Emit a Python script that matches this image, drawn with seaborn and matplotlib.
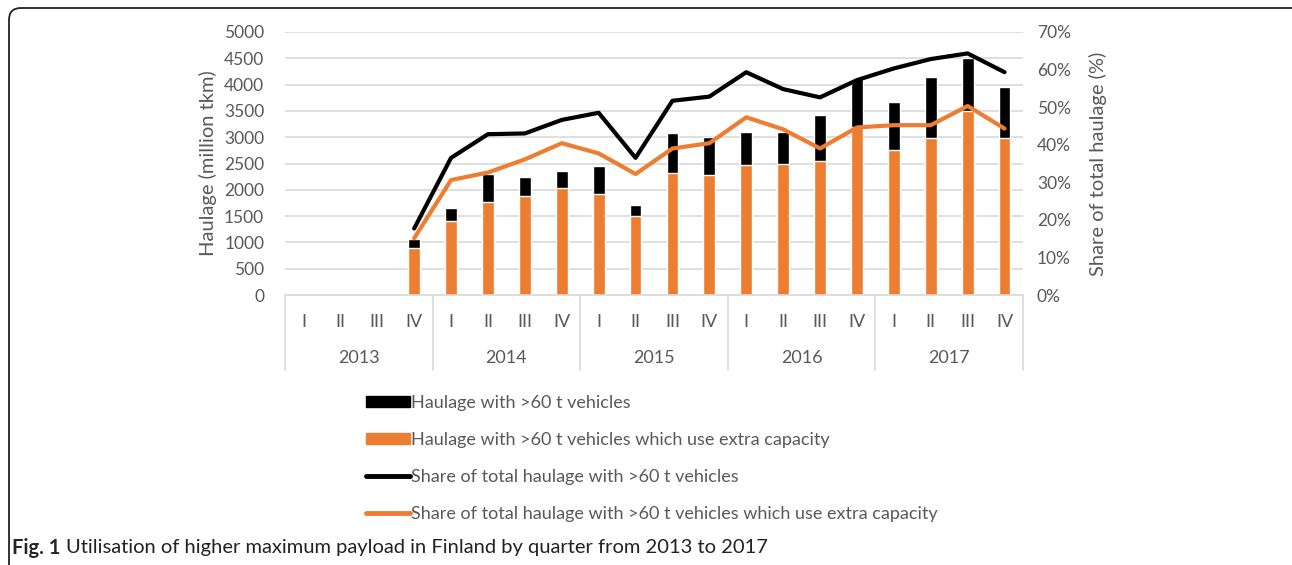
import seaborn as sns
import numpy as np
import pandas as pd
import matplotlib.pyplot as plt
from matplotlib.patches import Patch, FancyBboxPatch
from matplotlib.lines import Line2D

years = ["2013", "2014", "2015", "2016", "2017"]
quarters = ["I", "II", "III", "IV"]

# haulage, million tkm (2013 I-III not available)
haulage_60t = [np.nan, np.nan, np.nan, 1070,
               1650, 2300, 2250, 2350,
               2460, 1710, 3080, 3000,
               3090, 3100, 3430, 4100,
               3660, 4140, 4500, 3960]
haulage_extra = [np.nan, np.nan, np.nan, 900,
                 1400, 1760, 1880, 2040,
                 1920, 1500, 2320, 2290,
                 2470, 2490, 2550, 3200,
                 2760, 2990, 3500, 2980]
# share of total haulage, %
share_60t = [np.nan, np.nan, np.nan, 17.7,
             36.5, 42.8, 43.0, 46.6,
             48.5, 36.5, 51.7, 52.8,
             59.3, 54.8, 52.6, 57.2,
             60.3, 62.8, 64.3, 59.3]
share_extra = [np.nan, np.nan, np.nan, 15.1,
               30.6, 32.6, 36.1, 40.4,
               37.7, 32.2, 39.0, 40.4,
               47.3, 44.1, 39.0, 44.6,
               45.2, 45.2, 50.3, 44.3]

keys = [f"{y} {q}" for y in years for q in quarters]
df = pd.DataFrame({"key": keys, "pos": range(len(keys)),
                   "h60": haulage_60t, "hex": haulage_extra,
                   "s60": share_60t, "sex": share_extra})

sns.set_style("white")
plt.rcParams["font.family"] = ["Lato", "DejaVu Sans"]
grey = "#595959"
orange = "#ED7D31"

fig = plt.figure(figsize=(12.92, 5.65), dpi=100)
ax = fig.add_axes([285/1292, 1-295/565, 738/1292, 263/565])

sns.barplot(data=df, x="key", y="h60", order=keys, color="black", width=0.32,
            saturation=1, ax=ax)
sns.barplot(data=df, x="key", y="hex", order=keys, color=orange, width=0.32,
            saturation=1, ax=ax)
ax.set_ylim(0, 5000)
ax.set_yticks(range(0, 5001, 500))
ax.yaxis.grid(True, color="#d9d9d9", lw=1.2)
ax.set_axisbelow(True)
ax.tick_params(axis="y", labelsize=12.5, colors=grey, length=0, pad=15)
ax.set_xticks([])
ax.set_xlabel("")
ax.set_ylabel("Haulage (million tkm)", fontsize=14.5, color=grey, labelpad=5)
for s in ["top", "left", "right"]:
    ax.spines[s].set_visible(False)
ax.spines["bottom"].set_color("#d9d9d9")
ax.spines["bottom"].set_linewidth(1.2)

ax2 = ax.twinx()
sns.lineplot(data=df, x="pos", y="s60", color="black", lw=3, ax=ax2)
sns.lineplot(data=df, x="pos", y="sex", color=orange, lw=3, ax=ax2)
ax2.set_ylim(0, 70)
ax2.set_yticks(range(0, 71, 10))
ax2.set_yticklabels([f"{v}%" for v in range(0, 71, 10)])
ax2.tick_params(axis="y", labelsize=12.5, colors=grey, length=0, pad=10)
ax2.set_ylabel("Share of total haulage (%)", fontsize=14.5, color=grey, labelpad=13)
ax2.set_xlabel("")
for s in ax2.spines.values():
    s.set_visible(False)
ax.set_xlim(-0.5, len(keys) - 0.5)

# two-level category axis
trans = ax.get_xaxis_transform()
for i, y in enumerate(years):
    for j, q in enumerate(quarters):
        ax.text(i*4 + j, -0.103, q, transform=trans, ha="center", va="center",
                fontsize=13, color=grey)
    ax.text(i*4 + 1.5, -0.24, y, transform=trans, ha="center", va="center",
            fontsize=13, color=grey)
for b in range(len(years) + 1):
    ax.plot([b*4 - 0.5]*2, [0, -0.285], transform=trans, color="#d9d9d9",
            lw=1.2, clip_on=False)

handles = [Patch(color="black"), Patch(color=orange),
           Line2D([], [], color="black", lw=3.5), Line2D([], [], color=orange, lw=3.5)]
labels = ["Haulage with >60 t vehicles",
          "Haulage with >60 t vehicles which use extra capacity",
          "Share of total haulage with >60 t vehicles",
          "Share of total haulage with >60 t vehicles which use extra capacity"]
leg = fig.legend(handles, labels, loc="upper left", bbox_to_anchor=(350/1292, 1-379/565),
                 frameon=False, fontsize=13, handlelength=2.4, handleheight=0.55,
                 handletextpad=0.1, labelspacing=1.15)
for t in leg.get_texts():
    t.set_color(grey)

fig_lbl = fig.text(12/1292, 1-548/565, "Fig. 1", fontsize=14.5, fontweight="bold",
                   va="center", ha="left")
ax.annotate("Utilisation of higher maximum payload in Finland by quarter from 2013 to 2017",
            xy=(1, 0.5), xycoords=fig_lbl, xytext=(4, 0), textcoords="offset points",
            fontsize=14.5, va="center", ha="left", color="#222222",
            annotation_clip=False)

# rounded frame around the figure (in inches)
box = FancyBboxPatch((0.09, -1.0), 13.15 - 0.09, 5.57 + 1.0,
                     boxstyle="round,pad=0,rounding_size=0.12",
                     transform=fig.dpi_scale_trans, fill=False, ec="#222222", lw=1.3)
fig.patches.append(box)

fig.savefig("out.png", dpi=100)
